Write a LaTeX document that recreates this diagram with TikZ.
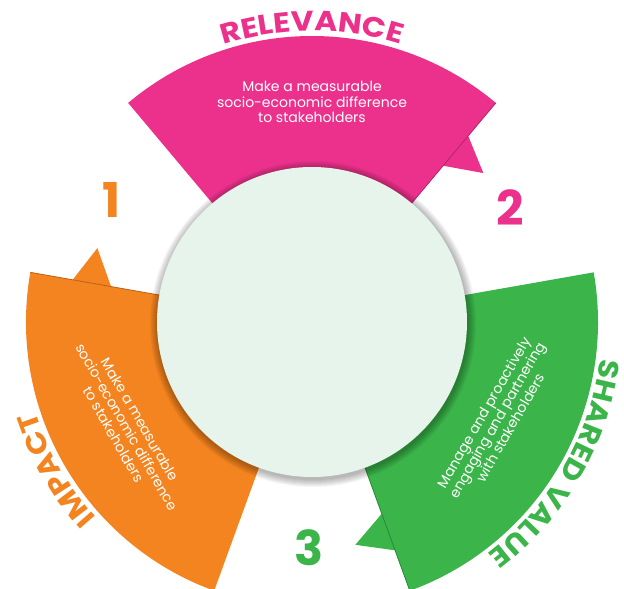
\documentclass[tikz,border=0pt]{standalone}
\usepackage{fontspec}
\setmainfont{Poppins}
\newfontfamily\titlefam[FakeStretch=1.12]{Poppins}
\usetikzlibrary{decorations.text}

\definecolor{relpink}{HTML}{EC318C}
\definecolor{relpinkdk}{HTML}{B02468}
\definecolor{impor}{HTML}{F48420}
\definecolor{impordk}{HTML}{B9601A}
\definecolor{shgreen}{HTML}{3BB54A}
\definecolor{shgreendk}{HTML}{2A8636}
\definecolor{core}{HTML}{E6F4EC}
\newcommand\titlefnt{\titlefam\fontsize{28}{30}\selectfont\bfseries}

\begin{document}
\begin{tikzpicture}[x=1pt, y=1pt,
  blurb/.style={text=white, align=center, font=\fontsize{14}{15.2}\selectfont},
  numlbl/.style={font=\fontsize{48}{50}\selectfont\bfseries},
  foldline/.style={line width=0.8pt}]
\useasboundingbox (-312,-267) rectangle (312,322);

% RELEVANCE (rosa, in alto)
\fill[relpink] (50:243) -- (41:227) -- (50:204) -- cycle;
\fill[relpink] (50:150) -- (50:286) arc[start angle=50, end angle=130, radius=286] -- (130:150) -- cycle;
\draw[relpinkdk, foldline] (50:150) -- (50:286);
\path[decorate, decoration={text along path, text align=center, text color=relpink,
  text={|\titlefnt|RELEVANCE}}] (150:291) arc[start angle=150, end angle=30, radius=291];
\node[blurb] (trel) at (0,220) {Make a measurable\\socio-economic difference\\to stakeholders};

% IMPACT (arancione, a sinistra)
\fill[impor] (170:243) -- (161:227) -- (170:204) -- cycle;
\fill[impor] (170:150) -- (170:286) arc[start angle=170, end angle=250, radius=286] -- (250:150) -- cycle;
\draw[impordk, foldline] (170:150) -- (170:286);
\path[decorate, decoration={text along path, text align=center, text color=impor,
  text={|\titlefnt|IMPACT}}] (270:291) arc[start angle=270, end angle=150, radius=291];
\node[blurb, rotate=-60] (timp) at (-185,-105) {Make a measurable\\socio-economic difference\\to stakeholders};

% SHARED VALUE (verde, a destra)
\fill[shgreen] (290:243) -- (281:227) -- (290:204) -- cycle;
\fill[shgreen] (290:150) -- (290:286) arc[start angle=290, end angle=370, radius=286] -- (370:150) -- cycle;
\draw[shgreendk, foldline] (290:150) -- (290:286);
\path[decorate, decoration={text along path, text align=center, text color=shgreen,
  text={|\titlefnt|SHARED VALUE}}] (30:291) arc[start angle=30, end angle=-90, radius=291];
\node[blurb, rotate=60] (tsha) at (185,-98) {Manage and proactively\\engaging and partnering\\with stakeholders};

% cerchio centrale con ombra
\foreach \d in {1,...,8}
  \fill[black, opacity=0.04] (1,-2) circle (155+\d);
\fill[core] (0,0) circle (155);

% numeri
\node[numlbl, text=impor] (n1) at (-200,122) {1};
\node[numlbl, text=relpink] (n2) at (198,114) {2};
\node[numlbl, text=shgreen] (n3) at (-3,-226) {3};

\end{tikzpicture}
\end{document}
